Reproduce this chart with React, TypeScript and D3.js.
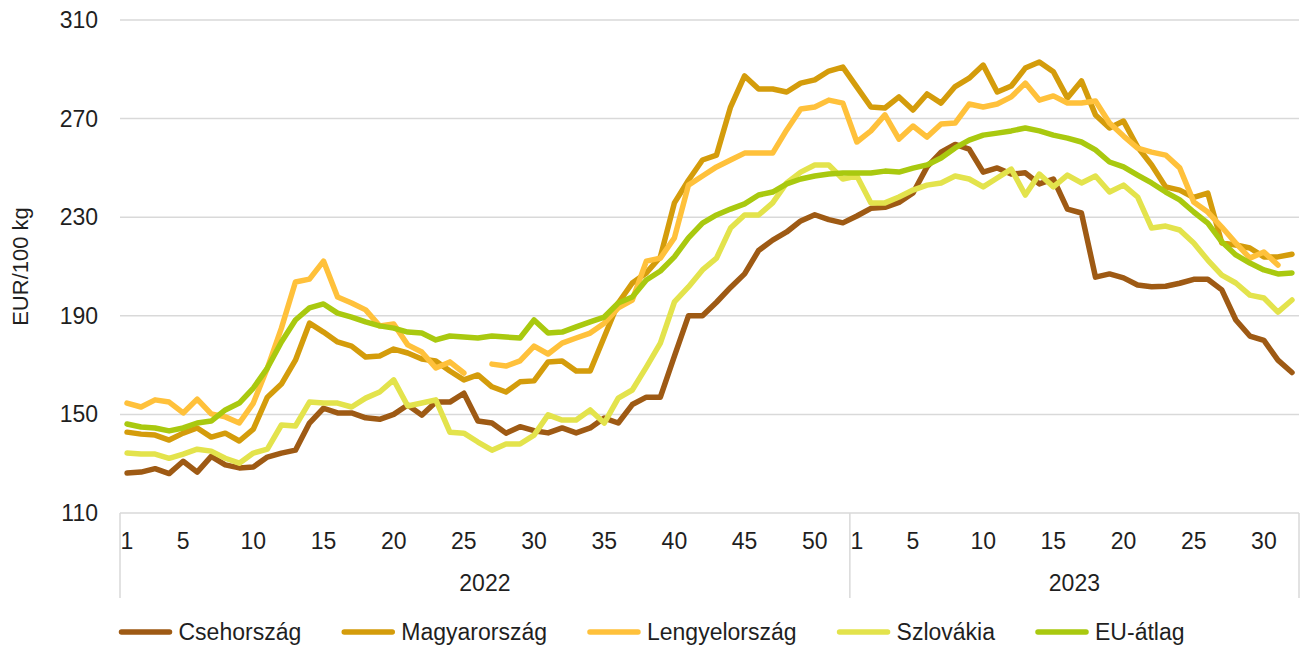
import { useEffect, useRef } from 'react'
import * as d3 from 'd3'

const years = ['2022', '2023']
const weeksPerYear = [52, 32]
const xTickWeeks = [
  [1, 5, 10, 15, 20, 25, 30, 35, 40, 45, 50],
  [1, 5, 10, 15, 20, 25, 30],
]
const yTicks = [110, 150, 190, 230, 270, 310]

const seriesNames = ['Csehország', 'Magyarország', 'Lengyelország', 'Szlovákia', 'EU-átlag']
const seriesColors = ['#9E5A14', '#D49C0B', '#FFC13B', '#E3E34C', '#A9C90F']

// 2022. 1-52. hét, majd 2023. 1-32. hét
const cseh = [
  126.2, 126.6, 128, 126, 131, 126.6, 133, 129.5, 128.3, 128.7,
  132.7, 134.3, 135.5, 146.5, 152.5, 150.6, 150.6, 148.6, 148, 150,
  153.8, 149.7, 155, 155, 158.6, 147.3, 146.5, 142.4, 145, 143.4,
  142.5, 144.5, 142.5, 144.5, 148.5, 146.5, 154, 157, 157, 173.6,
  190, 190, 195.5, 201.5, 207, 216.5, 220.7, 224, 228.5, 231,
  229, 227.7,
  230.5, 233.6, 234, 236, 239.8, 250.4, 256.4, 259.5, 257.6, 248.3,
  250, 247.5, 248, 243.5, 245.5, 233.3, 231.7, 205.7, 207, 205.4,
  202.5, 201.8, 202, 203.2, 204.8, 204.8, 200.5, 188.3, 181.8, 180,
  172, 167,
]

const magyar = [
  142.8, 142, 141.6, 139.6, 142.4, 144.5, 140.8, 142.4, 139.2, 144,
  157, 162.3, 172, 187, 183.4, 179.4, 177.7, 173.3, 173.7, 176.5,
  174.9, 172.5, 171.7, 167.6, 164, 166, 161.2, 159.1, 163.2, 163.6,
  171.3, 171.7, 167.6, 167.6, 181.4, 195.2, 203.3, 207.4, 213.9, 235.8,
  245, 253.2, 255.2, 274.7, 287.3, 282, 282, 280.8, 284.4, 285.7,
  289.3, 290.9,
  282.8, 274.7, 274.3, 278.8, 273.5, 280, 276.3, 283, 286.4, 291.7,
  280.8, 283.2, 290.5, 293, 289, 278.4, 285.3, 271.5, 266.2, 269,
  258.5, 251.2, 242.3, 241, 238, 239.8, 219.5, 218.7, 217.5, 213.9,
  213.9, 215,
]

const lengyel = [
  154.6, 153, 155.9, 155, 150.6, 156.2, 150.2, 149, 146.5, 154.6,
  168.8, 185, 203.7, 204.9, 212.2, 197.6, 195.2, 192.4, 185.9, 186.7,
  178.2, 175.3, 168.8, 171.3, 166.8, null, 170.4, 169.6, 171.7, 177.7,
  174.5, 178.9, 181, 183, 187, 193.2, 196.4, 212.2, 213.4, 221.6,
  243, 246.7, 250.4, 253.2, 256, 256, 256, 265.4, 273.9, 274.7,
  277.5, 276.3,
  260.5, 265, 271.5, 261.7, 267, 262.5, 267.8, 268.2, 275.9, 274.7,
  275.9, 278.8, 284.4, 277.5, 279.2, 276.3, 276.3, 277.1, 268.2, 262.9,
  258, 256.4, 255.2, 250, 236.2, 232.1, 226, 219.5, 213.4, 215.9,
  210.6, null,
]

const szlovakia = [
  134.3, 133.9, 133.9, 132.2, 133.9, 135.9, 135.1, 132.2, 130.2, 134.3,
  135.9, 145.7, 145.3, 155, 154.6, 154.6, 153, 156.6, 159.1, 164,
  153.4, 154.6, 155.9, 142.8, 142.4, 138.8, 135.5, 138, 138, 141.6,
  149.8, 147.7, 147.7, 151.8, 146.5, 156.6, 159.9, 169.2, 178.9, 195.6,
  201.7, 208.6, 213.4, 225.6, 230.9, 230.9, 235.8, 243.9, 248.3, 251.2,
  251.2, 245.5,
  246.7, 235.8, 235.8, 238.2, 241, 243, 243.9, 246.7, 245.5, 242.3,
  245.9, 249.5, 239, 247.5, 242.3, 247.1, 243.9, 246.7, 240.2, 243,
  238.2, 225.6, 226.4, 224.8, 219.5, 212.6, 206.5, 203.3, 198.4, 197.2,
  191.5, 196.4,
]

const euAtlag = [
  146.1, 144.9, 144.5, 143.3, 144.5, 146.5, 147.3, 151.8, 154.6, 160.7,
  168.8, 179.4, 188.3, 193.2, 194.8, 191.1, 189.5, 187.5, 185.9, 185,
  183.4, 183, 180.2, 181.8, 181.4, 181, 181.8, 181.4, 181, 188.3,
  183, 183.4, 185.5, 187.5, 189.5, 195.2, 197.6, 204.5, 208.2, 213.9,
  221.6, 227.6, 230.9, 233.3, 235.4, 239, 240.2, 243.5, 245.5, 246.7,
  247.5, 247.9,
  247.9, 247.9, 248.7, 248.3, 249.9, 251.2, 254, 258.1, 261.3, 263.3,
  264.1, 265, 266.2, 265, 263.3, 262.1, 260.5, 257.3, 252.4, 250.4,
  247.1, 243.9, 240.2, 237, 232.1, 227.6, 220, 214.7, 211.4, 208.6,
  207, 207.4,
]

const seriesValues = [cseh, magyar, lengyel, szlovakia, euAtlag]

const W = 1303
const H = 647
const FONT = '"Liberation Sans", Arial, sans-serif'
const FS = 23
const TEXT = '#1f1f1f'
const GRID = '#D9D9D9'

export default function App() {
  const svgRef = useRef<SVGSVGElement>(null)

  useEffect(() => {
    if (!svgRef.current) return
    const margin = { top: 20, left: 120, right: 4, bottom: 134 }
    const plotRight = W - margin.right
    const plotBottom = H - margin.bottom

    const keys: string[] = []
    years.forEach((y, i) => {
      for (let w = 1; w <= weeksPerYear[i]; w++) keys.push(`${y}-${w}`)
    })

    d3.select(svgRef.current).selectAll('*').remove()
    const svg = d3.select(svgRef.current)

    const x = d3.scaleBand<string>().domain(keys).range([margin.left, plotRight]).padding(0)
    const y = d3.scaleLinear().domain([110, 310]).range([plotBottom, margin.top])
    const cx = (k: string) => (x(k) ?? 0) + x.bandwidth() / 2

    // vízszintes rácsvonalak
    svg
      .append('g')
      .selectAll('line')
      .data(yTicks)
      .join('line')
      .attr('x1', margin.left)
      .attr('x2', plotRight)
      .attr('y1', (d) => y(d))
      .attr('y2', (d) => y(d))
      .attr('stroke', GRID)
      .attr('stroke-width', 1.5)

    // y tengely feliratai
    svg
      .append('g')
      .selectAll('text')
      .data(yTicks)
      .join('text')
      .attr('x', 98)
      .attr('y', (d) => y(d))
      .attr('dy', '0.35em')
      .attr('text-anchor', 'end')
      .attr('font-family', FONT)
      .attr('font-size', FS)
      .attr('fill', TEXT)
      .text((d) => d)

    svg
      .append('text')
      .attr('transform', `translate(20,${(margin.top + plotBottom) / 2}) rotate(-90)`)
      .attr('text-anchor', 'middle')
      .attr('dy', '0.35em')
      .attr('font-family', FONT)
      .attr('font-size', FS - 1)
      .attr('fill', TEXT)
      .text('EUR/100 kg')

    // kategória tengely: hetek és évek
    const sepBottom = 598
    const bounds = [margin.left]
    let acc = 0
    weeksPerYear.forEach((n) => {
      acc += n
      bounds.push(margin.left + acc * x.step())
    })
    svg
      .append('g')
      .selectAll('line')
      .data(bounds)
      .join('line')
      .attr('x1', (d) => d)
      .attr('x2', (d) => d)
      .attr('y1', plotBottom)
      .attr('y2', sepBottom)
      .attr('stroke', GRID)
      .attr('stroke-width', 1.5)

    years.forEach((yr, i) => {
      svg
        .append('g')
        .selectAll('text')
        .data(xTickWeeks[i])
        .join('text')
        .attr('x', (w) => cx(`${yr}-${w}`))
        .attr('y', 549)
        .attr('text-anchor', 'middle')
        .attr('font-family', FONT)
        .attr('font-size', FS)
        .attr('fill', TEXT)
        .text((w) => w)

      svg
        .append('text')
        .attr('x', (bounds[i] + bounds[i + 1]) / 2)
        .attr('y', 591)
        .attr('text-anchor', 'middle')
        .attr('font-family', FONT)
        .attr('font-size', FS)
        .attr('fill', TEXT)
        .text(yr)
    })

    // vonalak
    const line = d3
      .line<number | null>()
      .defined((d) => d != null)
      .x((_, i) => cx(keys[i]))
      .y((d) => y(d as number))

    seriesValues.forEach((vals, i) => {
      svg
        .append('path')
        .datum(vals)
        .attr('fill', 'none')
        .attr('stroke', seriesColors[i])
        .attr('stroke-width', 5.5)
        .attr('stroke-linejoin', 'round')
        .attr('stroke-linecap', 'round')
        .attr('d', line)
    })

    // jelmagyarázat
    const legendY = 632
    const swatchW = 48
    const gapText = 6
    const gapItem = 40
    const legend = svg.append('g')
    const items = seriesNames.map((name, i) => {
      const g = legend.append('g')
      g.append('line')
        .attr('x1', 3)
        .attr('x2', 3 + swatchW)
        .attr('y1', legendY)
        .attr('y2', legendY)
        .attr('stroke', seriesColors[i])
        .attr('stroke-width', 5.5)
        .attr('stroke-linecap', 'round')
      const t = g
        .append('text')
        .attr('x', 6 + swatchW + gapText)
        .attr('y', legendY)
        .attr('dy', '0.35em')
        .attr('font-family', FONT)
        .attr('font-size', FS)
        .attr('fill', TEXT)
        .text(name)
      const tw = (t.node() as SVGTextElement).getComputedTextLength()
      return { g, w: 6 + swatchW + gapText + tw }
    })
    const total = d3.sum(items, (d) => d.w) + gapItem * (items.length - 1)
    let lx = (W - total) / 2
    items.forEach((it) => {
      it.g.attr('transform', `translate(${lx},0)`)
      lx += it.w + gapItem
    })
  }, [])

  return (
    <svg
      ref={svgRef}
      width={W}
      height={H}
      style={{ position: 'absolute', left: 0, top: 0, background: 'white' }}
    />
  )
}
